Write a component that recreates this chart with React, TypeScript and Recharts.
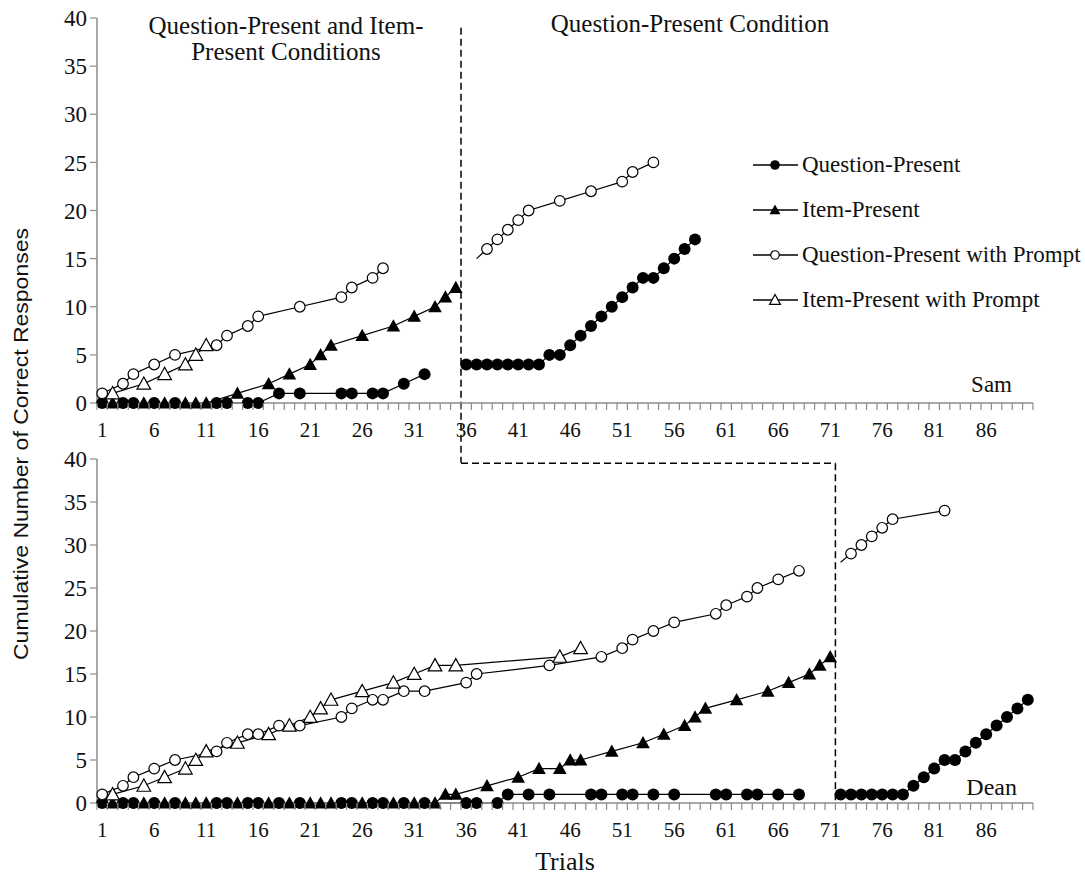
import React from 'react';
import { LineChart, Line, XAxis, YAxis, ReferenceLine, Legend } from 'recharts';

type Pt = [number, number];
type Shape = 'dot' | 'ring' | 'tri' | 'openTri';

// Sam (top panel), [trial, cumulative correct]
const samQuestionA: Pt[] = [[1, 0], [3, 0], [4, 0], [6, 0], [8, 0], [12, 0], [13, 0], [15, 0], [16, 0], [18, 1], [20, 1], [24, 1], [25, 1], [27, 1], [28, 1], [30, 2], [32, 3]];
const samQuestionB: Pt[] = [[36, 4], [37, 4], [38, 4], [39, 4], [40, 4], [41, 4], [42, 4], [43, 4], [44, 5], [45, 5], [46, 6], [47, 7], [48, 8], [49, 9], [50, 10], [51, 11], [52, 12], [53, 13], [54, 13], [55, 14], [56, 15], [57, 16], [58, 17]];
const samItemA: Pt[] = [[2, 0], [5, 0], [7, 0], [9, 0], [10, 0], [11, 0], [14, 1], [17, 2], [19, 3], [21, 4], [22, 5], [23, 6], [26, 7], [29, 8], [31, 9], [33, 10], [34, 11], [35, 12]];
const samQuestionPromptA: Pt[] = [[1, 1], [3, 2], [4, 3], [6, 4], [8, 5], [12, 6], [13, 7], [15, 8], [16, 9], [20, 10], [24, 11], [25, 12], [27, 13], [28, 14]];
const samQuestionPromptB: Pt[] = [[37, 15], [38, 16], [39, 17], [40, 18], [41, 19], [42, 20], [45, 21], [48, 22], [51, 23], [52, 24], [54, 25]];
const samItemPromptA: Pt[] = [[2, 1], [5, 2], [7, 3], [9, 4], [10, 5], [11, 6]];

// Dean (bottom panel)
const deanQuestionA: Pt[] = [[1, 0], [3, 0], [4, 0], [6, 0], [8, 0], [12, 0], [13, 0], [15, 0], [16, 0], [18, 0], [20, 0], [24, 0], [25, 0], [27, 0], [28, 0], [30, 0], [32, 0], [36, 0], [37, 0], [39, 0], [40, 1], [42, 1], [44, 1], [48, 1], [49, 1], [51, 1], [52, 1], [54, 1], [56, 1], [60, 1], [61, 1], [63, 1], [64, 1], [66, 1], [68, 1]];
const deanQuestionB: Pt[] = [[72, 1], [73, 1], [74, 1], [75, 1], [76, 1], [77, 1], [78, 1], [79, 2], [80, 3], [81, 4], [82, 5], [83, 5], [84, 6], [85, 7], [86, 8], [87, 9], [88, 10], [89, 11], [90, 12]];
const deanItemA: Pt[] = [[2, 0], [5, 0], [7, 0], [9, 0], [10, 0], [11, 0], [14, 0], [17, 0], [19, 0], [21, 0], [22, 0], [23, 0], [26, 0], [29, 0], [31, 0], [33, 0], [34, 1], [35, 1], [38, 2], [41, 3], [43, 4], [45, 4], [46, 5], [47, 5], [50, 6], [53, 7], [55, 8], [57, 9], [58, 10], [59, 11], [62, 12], [65, 13], [67, 14], [69, 15], [70, 16], [71, 17]];
const deanQuestionPromptA: Pt[] = [[1, 1], [3, 2], [4, 3], [6, 4], [8, 5], [12, 6], [13, 7], [15, 8], [16, 8], [18, 9], [20, 9], [24, 10], [25, 11], [27, 12], [28, 12], [30, 13], [32, 13], [36, 14], [37, 15], [44, 16], [49, 17], [51, 18], [52, 19], [54, 20], [56, 21], [60, 22], [61, 23], [63, 24], [64, 25], [66, 26], [68, 27]];
const deanQuestionPromptB: Pt[] = [[72, 28], [73, 29], [74, 30], [75, 31], [76, 32], [77, 33], [82, 34]];
const deanItemPromptA: Pt[] = [[2, 1], [5, 2], [7, 3], [9, 4], [10, 5], [11, 6], [14, 7], [17, 8], [19, 9], [21, 10], [22, 11], [23, 12], [26, 13], [29, 14], [31, 15], [33, 16], [35, 16], [45, 17], [47, 18]];

const seriesNames = ['Question-Present', 'Item-Present', 'Question-Present with Prompt', 'Item-Present with Prompt'];
const seriesShapes: Shape[] = ['dot', 'tri', 'ring', 'openTri'];
const trialLabels = [1, 6, 11, 16, 21, 26, 31, 36, 41, 46, 51, 56, 61, 66, 71, 76, 81, 86];
const yTicks = [0, 5, 10, 15, 20, 25, 30, 35, 40];
const trialCount = 90;

const SERIF = '"Liberation Serif", "Times New Roman", serif';
const INK = '#111';
const AXIS = '#8c8c8c';

// tick marks sit between trials, labels on the trials
const halfTicks: number[] = [];
for (let i = 0; i <= trialCount; i++) halfTicks.push(i + 0.5);
const xTicks = [...halfTicks, ...trialLabels].sort((a, b) => a - b);

const toRows = (pts: Pt[]) => pts.map(([trial, value]) => ({ trial, value }));

function Marker({ shape, cx, cy, s = 1 }: { shape: Shape; cx: number; cy: number; s?: number }) {
  if (shape === 'dot') return <circle cx={cx} cy={cy} r={6 * s} fill="#000" />;
  if (shape === 'ring') return <circle cx={cx} cy={cy} r={5.3 * s} fill="#fff" stroke="#000" strokeWidth={1.2} />;
  const h = 6.8 * s;
  const pts = `${cx},${cy - h} ${cx - h},${cy + h * 0.8} ${cx + h},${cy + h * 0.8}`;
  if (shape === 'tri') return <polygon points={pts} fill="#000" />;
  return <polygon points={pts} fill="#fff" stroke="#000" strokeWidth={1.2} />;
}

const markerDot = (shape: Shape, bareFirst = false) => (p: any) => {
  const { cx, cy, index } = p;
  if (cx == null || cy == null || (bareFirst && index === 0)) return <g key={`m${index}`} />;
  return <Marker key={`m${index}`} shape={shape} cx={cx} cy={cy} />;
};

const TrialTick = (props: any) => {
  const { x, y, payload } = props;
  const v = Number(payload?.value);
  if (!Number.isInteger(v)) {
    return <line x1={x} x2={x} y1={y - 8} y2={y - 1} stroke={AXIS} strokeWidth={1.2} />;
  }
  return (
    <text x={x} y={y + 26} textAnchor="middle" fontSize={21} fontFamily={SERIF} fill={INK}>
      {v}
    </text>
  );
};

const LegendRows = () => (
  <div style={{ fontFamily: SERIF, fontSize: 23, color: INK }}>
    {seriesNames.map((name, i) => (
      <div key={name} style={{ display: 'flex', alignItems: 'center', height: 45, whiteSpace: 'nowrap' }}>
        <svg width={50} height={20}>
          <line x1={1} x2={46} y1={10} y2={10} stroke="#000" strokeWidth={1.3} />
          <Marker shape={seriesShapes[i]} cx={23} cy={10} s={0.8} />
        </svg>
        <span>{name}</span>
      </div>
    ))}
  </div>
);

type Seg = { pts: Pt[]; series: number; bareFirst?: boolean };

const samSegments: Seg[] = [
  { pts: samQuestionA, series: 0 },
  { pts: samQuestionB, series: 0 },
  { pts: samItemA, series: 1 },
  { pts: samQuestionPromptA, series: 2 },
  { pts: samQuestionPromptB, series: 2, bareFirst: true },
  { pts: samItemPromptA, series: 3 },
];

const deanSegments: Seg[] = [
  { pts: deanQuestionA, series: 0 },
  { pts: deanQuestionB, series: 0 },
  { pts: deanItemA, series: 1 },
  { pts: deanQuestionPromptA, series: 2 },
  { pts: deanQuestionPromptB, series: 2, bareFirst: true },
  { pts: deanItemPromptA, series: 3 },
];

const phaseLine = { stroke: '#000', strokeWidth: 1.5, strokeDasharray: '7 4', ifOverflow: 'visible' as const };

function Panel(props: {
  top: number;
  height: number;
  marginTop: number;
  axisHeight: number;
  segments: Seg[];
  xLabel?: string;
  children?: React.ReactNode;
}) {
  const { top, height, marginTop, axisHeight, segments, xLabel, children } = props;
  return (
    <div style={{ position: 'absolute', left: 0, top, width: 1085, height }}>
      <LineChart width={1085} height={height} margin={{ top: marginTop, right: 52, bottom: 0, left: 0 }}>
        <XAxis
          type="number"
          dataKey="trial"
          domain={[0.5, 90.5]}
          ticks={xTicks}
          interval={0}
          tick={TrialTick}
          tickLine={false}
          axisLine={{ stroke: AXIS, strokeWidth: 1.5 }}
          height={axisHeight}
          label={
            xLabel
              ? { value: xLabel, position: 'insideBottom', offset: 5, fontSize: 26, fontFamily: SERIF, fill: INK }
              : undefined
          }
        />
        <YAxis
          type="number"
          domain={[0, 40]}
          ticks={yTicks}
          interval={0}
          width={97}
          tickSize={7}
          tickMargin={3}
          tick={{ fontSize: 23, fontFamily: SERIF, fill: INK }}
          tickLine={{ stroke: AXIS, strokeWidth: 1.2 }}
          axisLine={{ stroke: AXIS, strokeWidth: 1.5 }}
        />
        {segments.map((s, i) => (
          <Line
            key={i}
            data={toRows(s.pts)}
            dataKey="value"
            name={seriesNames[s.series]}
            stroke="#000"
            strokeWidth={1.2}
            dot={markerDot(seriesShapes[s.series], s.bareFirst)}
            activeDot={false}
            isAnimationActive={false}
          />
        ))}
        {children}
      </LineChart>
    </div>
  );
}

export default function App() {
  return (
    <div style={{ position: 'absolute', left: 0, top: 0, width: 1085, height: 875, background: '#fff' }}>
      <Panel top={0} height={470} marginTop={18} axisHeight={67} segments={samSegments}>
        <ReferenceLine segment={[{ x: 35.5, y: 39 }, { x: 35.5, y: -6.2 }]} {...phaseLine} />
        <Legend
          layout="vertical"
          align="center"
          verticalAlign="middle"
          wrapperStyle={{ left: 752, top: 142, width: 333 }}
          content={LegendRows}
        />
      </Panel>
      <Panel top={440} height={435} marginTop={19} axisHeight={72} segments={deanSegments} xLabel="Trials">
        <ReferenceLine segment={[{ x: 35.5, y: 39.5 }, { x: 71.5, y: 39.5 }]} {...phaseLine} />
        <ReferenceLine segment={[{ x: 71.5, y: 39.5 }, { x: 71.5, y: 0 }]} {...phaseLine} />
      </Panel>
      <svg width={1085} height={875} style={{ position: 'absolute', left: 0, top: 0, pointerEvents: 'none' }}>
        <g fontFamily={SERIF} fill={INK}>
          <text x={286} y={34} fontSize={25} textAnchor="middle">Question-Present and Item-</text>
          <text x={286} y={60} fontSize={25} textAnchor="middle">Present Conditions</text>
          <text x={690} y={32} fontSize={25} textAnchor="middle">Question-Present Condition</text>
          <text x={1012} y={392} fontSize={23} textAnchor="end">Sam</text>
          <text x={1017} y={795} fontSize={24} textAnchor="end">Dean</text>
        </g>
        <text
          x={28}
          y={444}
          transform="rotate(-90 28 444)"
          textAnchor="middle"
          fontSize={21}
          fontFamily='"Liberation Sans Narrow", "Liberation Sans", sans-serif'
          textLength={432}
          lengthAdjust="spacingAndGlyphs"
          fill={INK}
        >
          Cumulative Number of Correct Responses
        </text>
      </svg>
    </div>
  );
}
